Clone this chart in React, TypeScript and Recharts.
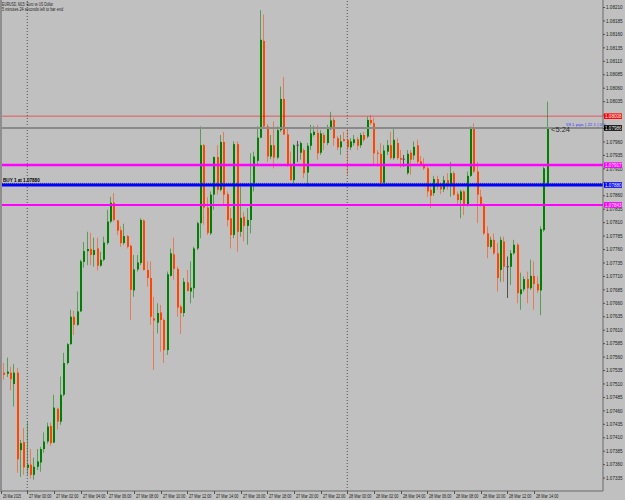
import { ComposedChart, Bar, XAxis, YAxis, ReferenceLine } from 'recharts'

// EURUSD M15, 26 Mar 22:00 .. 28 Mar 15:00 (one value per candle)
const opens = [
  1.07524, 1.07531, 1.07529, 1.07531, 1.07510, 1.07531, 1.07387, 1.07402, 1.07354, 1.07360,
  1.07341, 1.07356, 1.07364, 1.07389, 1.07403, 1.07432, 1.07401, 1.07464, 1.07440, 1.07490,
  1.07549, 1.07584, 1.07635, 1.07620, 1.07645, 1.07737, 1.07757, 1.07761, 1.07750, 1.07762,
  1.07730, 1.07741, 1.07772, 1.07812, 1.07847, 1.07814, 1.07796, 1.07772, 1.07785, 1.07767,
  1.07684, 1.07723, 1.07735, 1.07814, 1.07722, 1.07707, 1.07632, 1.07624, 1.07643, 1.07629,
  1.07573, 1.07711, 1.07751, 1.07724, 1.07654, 1.07642, 1.07699, 1.07682, 1.07688, 1.07762,
  1.07809, 1.07954, 1.07838, 1.07790, 1.07862, 1.07932, 1.07871, 1.07960, 1.07863, 1.07818,
  1.07787, 1.07956, 1.07793, 1.07821, 1.07804, 1.07815, 1.07883, 1.07925, 1.07968, 1.08148,
  1.07989, 1.07933, 1.07954, 1.07931, 1.07982, 1.08040, 1.07974, 1.07917, 1.07889, 1.07954,
  1.07940, 1.07945, 1.07903, 1.07953, 1.07973, 1.07977, 1.07940, 1.07973, 1.07958, 1.07984,
  1.08001, 1.07967, 1.07950, 1.07965, 1.07964, 1.07950, 1.07958, 1.07965, 1.07954, 1.07973,
  1.07970, 1.08001, 1.07995, 1.07940, 1.07938, 1.07884, 1.07942, 1.07954, 1.07930, 1.07958,
  1.07930, 1.07928, 1.07902, 1.07940, 1.07935, 1.07954, 1.07924, 1.07919, 1.07911, 1.07871,
  1.07865, 1.07891, 1.07877, 1.07872, 1.07889, 1.07880, 1.07902, 1.07863, 1.07852, 1.07868,
  1.07843, 1.07897, 1.07986, 1.07905, 1.07858, 1.07843, 1.07790, 1.07765, 1.07778, 1.07753,
  1.07722, 1.07775, 1.07728, 1.07728, 1.07753, 1.07769, 1.07677, 1.07686, 1.07705, 1.07688,
  1.07711, 1.07696, 1.07684, 1.07796, 1.07880,
]
const highs = [
  1.07536, 1.07549, 1.07559, 1.07542, 1.07547, 1.07540, 1.07406, 1.07428, 1.07440, 1.07389,
  1.07373, 1.07389, 1.07393, 1.07420, 1.07438, 1.07438, 1.07490, 1.07466, 1.07524, 1.07568,
  1.07586, 1.07648, 1.07646, 1.07682, 1.07741, 1.07774, 1.07793, 1.07791, 1.07782, 1.07782,
  1.07756, 1.07784, 1.07834, 1.07858, 1.07865, 1.07815, 1.07803, 1.07808, 1.07787, 1.07769,
  1.07750, 1.07750, 1.07818, 1.07816, 1.07738, 1.07738, 1.07672, 1.07660, 1.07657, 1.07632,
  1.07719, 1.07762, 1.07782, 1.07728, 1.07657, 1.07707, 1.07722, 1.07738, 1.07765, 1.07812,
  1.07989, 1.07956, 1.07857, 1.07868, 1.07933, 1.07954, 1.07973, 1.07979, 1.07868, 1.07837,
  1.07961, 1.07961, 1.07877, 1.07830, 1.07837, 1.07939, 1.07942, 1.07989, 1.08205, 1.08197,
  1.07993, 1.07973, 1.07998, 1.07989, 1.08063, 1.08081, 1.07986, 1.07942, 1.07956, 1.07962,
  1.07961, 1.07948, 1.07958, 1.07992, 1.07990, 1.07992, 1.07982, 1.07977, 1.07992, 1.08016,
  1.08005, 1.07971, 1.07973, 1.07979, 1.07986, 1.07967, 1.07973, 1.07969, 1.07977, 1.07979,
  1.08007, 1.08010, 1.08005, 1.07945, 1.07958, 1.07954, 1.07964, 1.07979, 1.07984, 1.07967,
  1.07945, 1.07936, 1.07945, 1.07945, 1.07961, 1.07964, 1.07934, 1.07930, 1.07914, 1.07877,
  1.07897, 1.07897, 1.07884, 1.07897, 1.07902, 1.07923, 1.07905, 1.07868, 1.07871, 1.07871,
  1.07905, 1.07989, 1.07995, 1.07923, 1.07871, 1.07846, 1.07803, 1.07784, 1.07790, 1.07772,
  1.07784, 1.07784, 1.07747, 1.07759, 1.07778, 1.07772, 1.07717, 1.07710, 1.07719, 1.07741,
  1.07738, 1.07710, 1.07803, 1.07914, 1.08035,
]
const lows = [
  1.07522, 1.07518, 1.07523, 1.07498, 1.07468, 1.07345, 1.07337, 1.07341, 1.07341, 1.07334,
  1.07332, 1.07350, 1.07347, 1.07382, 1.07399, 1.07395, 1.07400, 1.07425, 1.07434, 1.07487,
  1.07546, 1.07583, 1.07601, 1.07618, 1.07644, 1.07726, 1.07731, 1.07731, 1.07728, 1.07721,
  1.07728, 1.07738, 1.07769, 1.07809, 1.07812, 1.07787, 1.07765, 1.07769, 1.07762, 1.07629,
  1.07672, 1.07719, 1.07731, 1.07721, 1.07691, 1.07620, 1.07536, 1.07604, 1.07570, 1.07549,
  1.07564, 1.07710, 1.07704, 1.07635, 1.07603, 1.07635, 1.07682, 1.07660, 1.07670, 1.07759,
  1.07781, 1.07806, 1.07787, 1.07787, 1.07834, 1.07862, 1.07868, 1.07843, 1.07803, 1.07762,
  1.07781, 1.07756, 1.07784, 1.07775, 1.07769, 1.07790, 1.07868, 1.07917, 1.07967, 1.07986,
  1.07923, 1.07928, 1.07911, 1.07928, 1.07979, 1.07973, 1.07914, 1.07888, 1.07883, 1.07923,
  1.07927, 1.07893, 1.07877, 1.07945, 1.07970, 1.07927, 1.07936, 1.07945, 1.07954, 1.07982,
  1.07953, 1.07945, 1.07936, 1.07961, 1.07899, 1.07945, 1.07953, 1.07945, 1.07949, 1.07960,
  1.07967, 1.07992, 1.07917, 1.07914, 1.07876, 1.07883, 1.07936, 1.07927, 1.07927, 1.07927,
  1.07912, 1.07914, 1.07899, 1.07899, 1.07927, 1.07917, 1.07917, 1.07908, 1.07858, 1.07837,
  1.07860, 1.07871, 1.07863, 1.07867, 1.07871, 1.07858, 1.07860, 1.07843, 1.07818, 1.07824,
  1.07840, 1.07895, 1.07902, 1.07809, 1.07840, 1.07787, 1.07744, 1.07762, 1.07750, 1.07682,
  1.07700, 1.07700, 1.07670, 1.07694, 1.07750, 1.07660, 1.07648, 1.07682, 1.07660, 1.07685,
  1.07648, 1.07679, 1.07638, 1.07793, 1.07877,
]
const closes = [
  1.07533, 1.07527, 1.07533, 1.07519, 1.07531, 1.07370, 1.07400, 1.07355, 1.07360, 1.07341,
  1.07356, 1.07366, 1.07389, 1.07403, 1.07431, 1.07400, 1.07466, 1.07440, 1.07490, 1.07549,
  1.07584, 1.07635, 1.07620, 1.07645, 1.07738, 1.07757, 1.07761, 1.07750, 1.07759, 1.07730,
  1.07741, 1.07773, 1.07812, 1.07847, 1.07815, 1.07795, 1.07772, 1.07785, 1.07765, 1.07685,
  1.07723, 1.07736, 1.07815, 1.07722, 1.07707, 1.07635, 1.07628, 1.07642, 1.07629, 1.07573,
  1.07714, 1.07753, 1.07724, 1.07652, 1.07642, 1.07700, 1.07683, 1.07689, 1.07762, 1.07809,
  1.07954, 1.07838, 1.07791, 1.07862, 1.07932, 1.07871, 1.07960, 1.07862, 1.07815, 1.07787,
  1.07956, 1.07793, 1.07819, 1.07804, 1.07815, 1.07883, 1.07933, 1.07968, 1.08150, 1.07989,
  1.07933, 1.07954, 1.07931, 1.07982, 1.08040, 1.07974, 1.07917, 1.07889, 1.07954, 1.07954,
  1.07958, 1.07902, 1.07953, 1.07976, 1.07979, 1.07939, 1.07976, 1.07958, 1.07984, 1.08000,
  1.07967, 1.07950, 1.07961, 1.07962, 1.07950, 1.07961, 1.07965, 1.07953, 1.07973, 1.07964,
  1.08001, 1.07995, 1.07939, 1.07938, 1.07884, 1.07944, 1.07954, 1.07930, 1.07964, 1.07930,
  1.07927, 1.07928, 1.07938, 1.07927, 1.07951, 1.07923, 1.07919, 1.07911, 1.07868, 1.07860,
  1.07891, 1.07877, 1.07872, 1.07889, 1.07883, 1.07902, 1.07862, 1.07852, 1.07868, 1.07843,
  1.07897, 1.07986, 1.07905, 1.07862, 1.07843, 1.07790, 1.07765, 1.07778, 1.07753, 1.07707,
  1.07778, 1.07728, 1.07728, 1.07753, 1.07769, 1.07679, 1.07686, 1.07705, 1.07688, 1.07711,
  1.07696, 1.07684, 1.07798, 1.07911, 1.07986,
]

// time axis: one label every 8 bars (2 hours)
const timeLabels = [
  '26 Mar 2025', '27 Mar 00:00', '27 Mar 02:00', '27 Mar 04:00', '27 Mar 06:00', '27 Mar 08:00',
  '27 Mar 10:00', '27 Mar 12:00', '27 Mar 14:00', '27 Mar 16:00', '27 Mar 18:00', '27 Mar 20:00',
  '27 Mar 22:00', '28 Mar 00:00', '28 Mar 02:00', '28 Mar 04:00', '28 Mar 06:00', '28 Mar 08:00',
  '28 Mar 10:00', '28 Mar 12:00', '28 Mar 14:00',
]
const timeTicks = [0, 8, 16, 24, 32, 40, 48, 56, 64, 72, 80, 88, 96, 104, 112, 120, 128, 136, 144, 152, 160]
const daySeparators = [8, 104]

const priceTicks = [
  1.08210, 1.08185, 1.08160, 1.08135, 1.08110, 1.08085, 1.08060, 1.08035, 1.08010, 1.07985,
  1.07960, 1.07935, 1.07910, 1.07885, 1.07860, 1.07835, 1.07810, 1.07785, 1.07760, 1.07735,
  1.07710, 1.07685, 1.07660, 1.07635, 1.07610, 1.07585, 1.07560, 1.07535, 1.07510, 1.07485,
  1.07460, 1.07435, 1.07410, 1.07385, 1.07360, 1.07335,
]

// horizontal objects: alert, bid, upper level, buy level, lower level
const levelPrices = [1.08008, 1.07986, 1.07917, 1.07880, 1.07843]
const orderPrice = 1.07883
const levelColors = ['#ff0000', '#8a8a8a', '#ff00ff', '#0000ff', '#ff00ff']
const levelWidths = [1, 2, 2.5, 3, 2]
const levelOpacity = [0.55, 1, 1, 1, 1]
const tagFills = ['#ff0000', '#000000', '#ff00ff', '#0000ff', '#ff00ff']

const candles = opens.map((o, i) => ({
  i,
  open: o,
  high: highs[i],
  low: lows[i],
  close: closes[i],
  range: [lows[i], highs[i]],
}))

const TEXT = '#1e1e1e'
const FONT = '"Liberation Sans", Arial, sans-serif'

function Candle(props: any) {
  const { x, y, width, height, payload } = props
  if (x == null || !payload) return null
  const { open, close, high, low } = payload
  const top = Math.min(y, y + height)
  const h = Math.abs(height)
  const py = (p: number) => (high === low ? top : top + ((high - p) / (high - low)) * h)
  const px = Math.floor(x + width / 2)
  const up = close > open
  const down = close < open
  const color = up ? '#008000' : down ? '#ff4500' : '#505050'
  const bTop = py(Math.max(open, close))
  const bBot = py(Math.min(open, close))
  return (
    <g>
      <line x1={px + 0.5} x2={px + 0.5} y1={top} y2={top + h} stroke={color} strokeOpacity={up || down ? 0.55 : 1} />
      {up || down ? (
        <rect x={px} y={bTop} width={2} height={Math.max(bBot - bTop, 1)} fill={color} />
      ) : (
        <line x1={px - 0.5} x2={px + 2} y1={bTop} y2={bTop} stroke={color} />
      )}
    </g>
  )
}

function TimeTick(props: any) {
  const { x, y, payload } = props
  const k = timeTicks.indexOf(payload.value)
  const tx = Math.round(x) + 0.5
  return (
    <g>
      <line x1={tx} x2={tx} y1={y} y2={y + 3} stroke="#505050" />
      <text x={tx + 1.5} y={y + 6.5} fontSize={4.6} fontFamily={FONT} fill={TEXT}
        textLength={k === 0 ? 18 : 22.5} lengthAdjust="spacingAndGlyphs">
        {timeLabels[k]}
      </text>
    </g>
  )
}

function PriceTick(props: any) {
  const { x, y, index, payload } = props
  const tag = index - priceTicks.length
  const value = Number(payload.value)
  const label = value.toFixed(5)
  if (tag >= 0) {
    return (
      <g>
        <rect x={x + 1} y={y - 2.8} width={18} height={5.6} fill={tagFills[tag]} />
        <text x={x + 2} y={y + 1.7} fontSize={4.6} fontFamily={FONT} fill="#ffffff">{label}</text>
      </g>
    )
  }
  // the terminal hides scale prices sitting under an object tag
  const covered = levelPrices.some((p) => Math.abs(p - value) < 0.00006)
  return (
    <g>
      <line x1={x} x2={x + 2} y1={y} y2={y} stroke="#505050" />
      {!covered && (
        <text x={x + 3} y={y + 1.7} fontSize={4.6} fontFamily={FONT} fill={TEXT}>{label}</text>
      )}
    </g>
  )
}

function BuyLabel(props: any) {
  const { viewBox } = props
  return (
    <text x={viewBox.x + 3} y={viewBox.y - 3} fontSize={4.6} fontWeight="bold" fontFamily={FONT} fill="#000000">
      BUY 1 at 1.07880
    </text>
  )
}

function BidLabel(props: any) {
  const { viewBox } = props
  const right = viewBox.x + viewBox.width
  return (
    <g>
      <text x={right - 52} y={viewBox.y + 4.5} fontSize={7.5} fontFamily={FONT} fill="#2a2a2a">{'<5:24'}</text>
      <text x={right - 37} y={viewBox.y - 1.5} fontSize={4.4} fontFamily={FONT} fill="#3a3aff">59.1 pips | 22.1 | 0%</text>
    </g>
  )
}

export default function App() {
  return (
    <div style={{ position: 'absolute', left: 0, top: 0, width: 625, height: 500, background: '#c0c0c0', overflow: 'hidden' }}>
      <ComposedChart width={625} height={500} data={candles} margin={{ top: 0, right: 0, bottom: 0, left: 0 }}>
        <XAxis
          dataKey="i"
          type="number"
          domain={[-0.18, 180.72]}
          allowDataOverflow
          ticks={timeTicks}
          interval={0}
          height={9}
          tickSize={0}
          tickMargin={0}
          tickLine={false}
          axisLine={{ stroke: '#6a6a6a' }}
          tick={<TimeTick />}
        />
        <YAxis
          orientation="right"
          type="number"
          width={22}
          domain={[1.07311, 1.08224]}
          allowDataOverflow
          ticks={[...priceTicks, ...levelPrices]}
          interval={0}
          tickSize={0}
          tickMargin={0}
          tickLine={false}
          axisLine={{ stroke: '#6a6a6a' }}
          tick={<PriceTick />}
        />
        {daySeparators.map((d) => (
          <ReferenceLine key={d} x={d} stroke="#555555" strokeDasharray="1 2" />
        ))}
        <Bar dataKey="range" barSize={3} isAnimationActive={false} shape={(p: any) => <Candle {...p} />} />
        <ReferenceLine y={orderPrice} stroke="#555555" strokeDasharray="1 1" />
        {levelPrices.map((p, k) => (
          <ReferenceLine
            key={p}
            y={p}
            stroke={levelColors[k]}
            strokeWidth={levelWidths[k]}
            strokeOpacity={levelOpacity[k]}
            label={k === 1 ? (lp: any) => <BidLabel {...lp} /> : k === 3 ? (lp: any) => <BuyLabel {...lp} /> : undefined}
          />
        ))}
      </ComposedChart>
      <div style={{ position: 'absolute', left: 0, top: 0, width: 1.5, height: 491, background: '#8e8e8e' }} />
      <svg width={200} height={14} style={{ position: 'absolute', left: 0, top: 0 }}>
        <text x={2} y={5.6} fontSize={4.6} fontFamily={FONT} fill={TEXT} textLength={51} lengthAdjust="spacingAndGlyphs">
          EURUSD, M15:  Euro vs US Dollar
        </text>
        <text x={2} y={11} fontSize={4.6} fontFamily={FONT} fill={TEXT} textLength={61} lengthAdjust="spacingAndGlyphs">
          5 minutes 24 seconds left to bar end
        </text>
      </svg>
    </div>
  )
}
